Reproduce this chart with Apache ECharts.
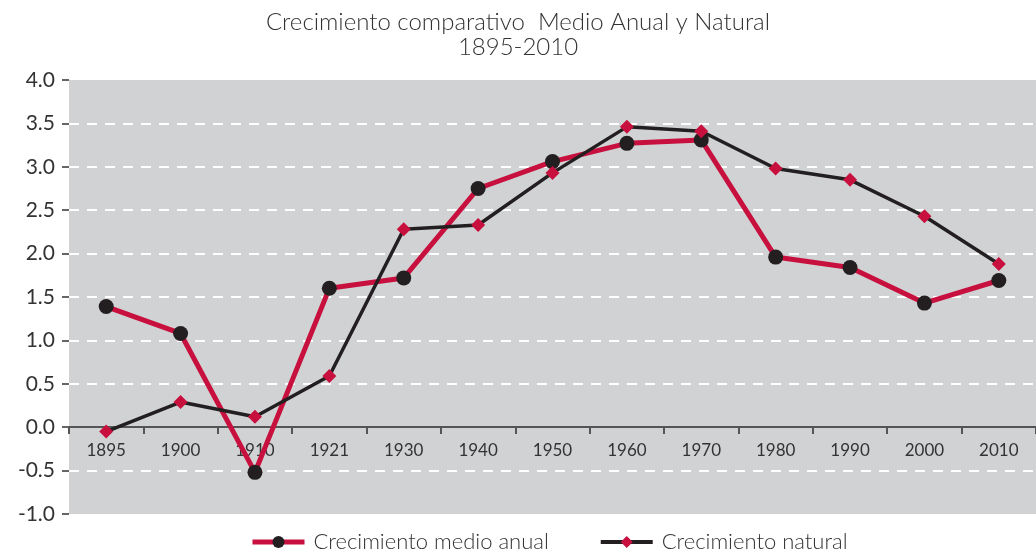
<!DOCTYPE html>
<html lang="es" style="height: 100%">
<head>
  <meta charset="utf-8">
</head>
<body style="height: 100%; margin: 0; background: #fff">
  <div id="container" style="height: 100%"></div>

  <script type="text/javascript" src="https://fastly.jsdelivr.net/npm/echarts@6.0.0/dist/echarts.min.js"></script>

  <script type="text/javascript">
    var dom = document.getElementById('container');
    var myChart = echarts.init(dom, null, { renderer: 'canvas' });

let years = ['1895', '1900', '1910', '1921', '1930', '1940', '1950', '1960', '1970', '1980', '1990', '2000', '2010'];
let medioAnual = [1.39, 1.08, -0.52, 1.60, 1.72, 2.75, 3.06, 3.27, 3.31, 1.96, 1.84, 1.43, 1.69];
let natural = [-0.05, 0.29, 0.12, 0.59, 2.28, 2.33, 2.93, 3.46, 3.41, 2.98, 2.85, 2.43, 1.88];

var crimson = '#c8103f';
var dark = '#231f20';
var font = 'Lato, "Open Sans", sans-serif';

// white dashes only inside the plot, not on the top/bottom edges
var splitColors = ['rgba(0,0,0,0)'];
for (var i = 0; i < 9; i++) splitColors.push('#ffffff');
splitColors.push('rgba(0,0,0,0)');

var option = {
    backgroundColor: '#ffffff',
    title: {
        text: 'Crecimiento comparativo  Medio Anual y Natural\n1895-2010',
        left: 'center',
        top: 5,
        textStyle: {
            fontFamily: font,
            fontWeight: 300,
            fontSize: 24,
            lineHeight: 25,
            color: '#333333',
        },
    },
    grid: {
        left: 69,
        right: 0,
        top: 80,
        bottom: 38,
        show: true,
        backgroundColor: '#d1d2d4',
        borderWidth: 0,
    },
    legend: {
        left: 245,
        top: 526,
        itemWidth: 52,
        itemHeight: 15,
        itemGap: 50,
        textStyle: {
            fontFamily: font,
            fontWeight: 300,
            fontSize: 22,
            color: '#333333',
            padding: [0, 0, 0, 4],
        },
        data: [
            { name: 'Crecimiento medio anual', lineStyle: { width: 5 } },
            { name: 'Crecimiento natural', lineStyle: { width: 4 } },
        ],
    },
    xAxis: {
        type: 'category',
        data: years,
        boundaryGap: true,
        // axis sits at y = 0, one unit above the bottom (-1.0)
        offset: -87,
        axisLine: {
            onZero: false,
            lineStyle: { color: '#555555', width: 2 },
        },
        axisTick: {
            show: true,
            interval: 0,
            alignWithLabel: false,
            length: 7,
            lineStyle: { color: '#555555', width: 2 },
        },
        axisLabel: {
            margin: 15,
            fontFamily: font,
            fontSize: 17,
            color: '#333333',
        },
    },
    yAxis: {
        type: 'value',
        min: -1,
        max: 4,
        interval: 0.5,
        axisLine: { show: false },
        axisTick: {
            show: true,
            length: 7,
            lineStyle: { color: '#666666', width: 2 },
        },
        axisLabel: {
            margin: 14,
            fontFamily: font,
            fontSize: 21,
            color: '#333333',
            formatter: function (v) { return v.toFixed(1); },
        },
        splitLine: {
            show: true,
            lineStyle: {
                color: splitColors,
                width: 2,
                type: [10, 8],
            },
        },
    },
    series: [
        {
            name: 'Crecimiento medio anual',
            type: 'line',
            data: medioAnual,
            symbol: 'circle',
            symbolSize: 15,
            itemStyle: { color: dark },
            lineStyle: { color: crimson, width: 5 },
            z: 3,
        },
        {
            name: 'Crecimiento natural',
            type: 'line',
            data: natural,
            symbol: 'diamond',
            symbolSize: 14,
            itemStyle: { color: crimson },
            lineStyle: { color: dark, width: 3.5 },
            z: 4,
        },
    ],
};

    myChart.setOption(option);
    window.addEventListener('resize', myChart.resize);
  </script>
</body>
</html>
